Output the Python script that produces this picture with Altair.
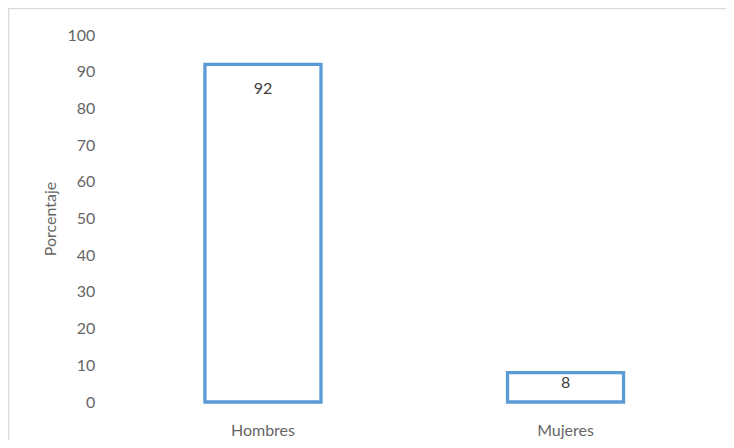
import altair as alt
import pandas as pd

categories = ["Hombres", "Mujeres"]
values = [92, 8]
y_ticks = [0, 10, 20, 30, 40, 50, 60, 70, 80, 90, 100]

df = pd.DataFrame({"Sexo": categories, "Porcentaje": values})

FONT = "Lato"

x_enc = alt.X(
    "Sexo:N",
    sort=categories,
    scale=alt.Scale(paddingInner=0.6165, paddingOuter=0.308),
    axis=alt.Axis(
        title=None, labelAngle=0, domain=False, ticks=False, labelPadding=33,
        labelBaseline="alphabetic", labelFontSize=16, labelColor="#666666", labelFont=FONT,
    ),
)
y_enc = alt.Y(
    "Porcentaje:Q",
    scale=alt.Scale(domain=[0, 100], nice=False),
    axis=alt.Axis(
        values=y_ticks, grid=False, domain=False, ticks=False, labelPadding=17,
        labelFontSize=16, labelColor="#666666", labelFont=FONT,
        title="Porcentaje", titleFontSize=16, titleFont=FONT, titleColor="#666666",
        titleFontWeight="normal", titleX=-56, titleY=183.5, titleAngle=270,
        titleBaseline="alphabetic", titleAlign="center",
    ),
)

base = alt.Chart(df)

border = base.mark_rect(fill=None, stroke="#d9d9d9", strokeWidth=1.5).encode(
    x=alt.value(-103.25), x2=alt.value(700), y=alt.value(-26.5), y2=alt.value(500)
).transform_filter(alt.datum.Sexo == "Hombres")

bars = base.mark_bar(fill="white", stroke="#5b9bd5", strokeWidth=3.3).encode(
    x=x_enc, y=y_enc
)

lab_big = base.mark_text(
    baseline="alphabetic", dy=30, fontSize=16, font=FONT, color="#404040"
).encode(x=x_enc, y=y_enc, text="Porcentaje:Q").transform_filter(alt.datum.Sexo == "Hombres")

lab_small = base.mark_text(
    baseline="alphabetic", dy=15.7, fontSize=16, font=FONT, color="#404040"
).encode(x=x_enc, y=y_enc, text="Porcentaje:Q").transform_filter(alt.datum.Sexo == "Mujeres")

chart = alt.layer(border, bars, lab_big, lab_small).properties(
    width=605,
    height=367,
    background="white",
    autosize=alt.AutoSizeParams(type="none"),
    padding={"left": 103.75, "top": 27, "right": 9.25, "bottom": 38},
).configure_view(strokeWidth=0, stroke="transparent")

chart.save("out.html", embed_options={"renderer": "svg", "actions": False})
